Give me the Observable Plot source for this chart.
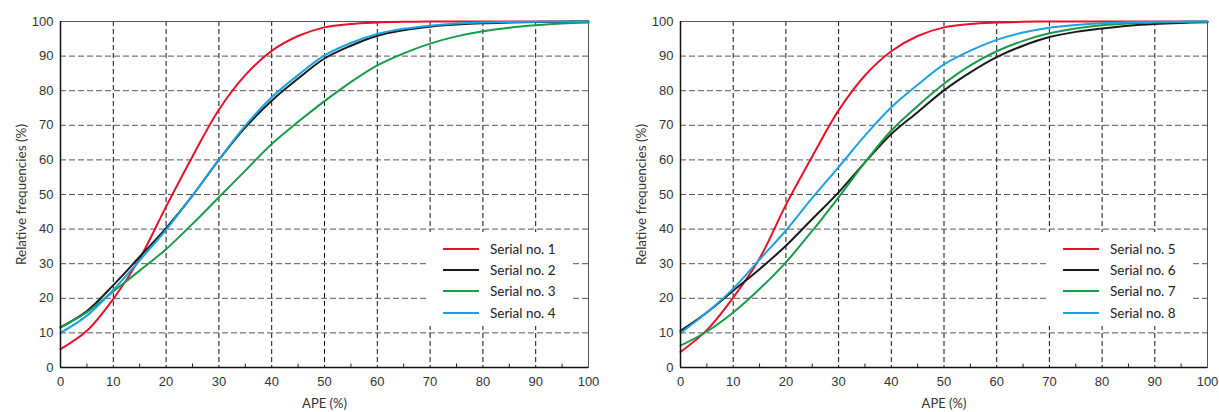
<!DOCTYPE html>
<html>
<head>
<meta charset="utf-8">
<script src="https://cdn.jsdelivr.net/npm/d3@7"></script>
<script src="https://cdn.jsdelivr.net/npm/@observablehq/plot@0.6"></script>
<style>
  body { margin: 0; background: #fff; }
  #wrap { position: relative; width: 1219px; height: 412px; }
  .panel { position: absolute; top: 0; }
  .legend { position: absolute; background: #fff; width: 143px; height: 94px; box-sizing: border-box; padding-top: 6px;
            font-family: "Lato", "Open Sans", sans-serif; font-size: 13.5px; color: #222; }
  .legend .row { display: flex; align-items: center; height: 21.3px; }
  .legend .sw { width: 36px; height: 2px; margin-left: 15px; margin-right: 11px; }
</style>
</head>
<body>
<div id="wrap"></div>
<script>
// APE (%) sample positions
const ape = [0,5,10,15,20,25,30,35,40,45,50,55,60,65,70,75,80,85,90,95,100];

// Left panel series (relative frequency, %)
const serial1 = [5.3,10.6,19.8,31.5,46.5,61,74.5,84.5,91.5,95.8,98.3,99.3,99.7,99.9,100,100,100,100,100,100,100];
const serial2 = [11.6,16.3,23.8,32,40.3,49.7,60,69.4,77.1,83.5,89.3,93,95.9,97.5,98.5,99.1,99.5,99.7,99.85,99.95,100];
const serial3 = [11.6,16,22,28,34.2,41.5,49.2,56.9,64.6,71,77,82.5,87.3,90.8,93.6,95.7,97.2,98.2,98.9,99.4,99.7];
const serial4 = [10,15,22.4,31,39.8,49.7,60,69.9,78.1,84.5,90.2,93.8,96.4,97.9,98.8,99.4,99.7,99.85,99.95,100,100];

// Right panel series
const serial5 = [4.5,10.8,20.2,31.5,47,61,74.3,84.4,91.4,95.8,98.3,99.3,99.7,99.9,100,100,100,100,100,100,100];
const serial6 = [10.6,15.9,22.2,28.4,35.2,42.9,50.6,59.3,67.5,73.8,80.1,85.3,89.7,93,95.5,97,98,98.8,99.3,99.6,99.8];
const serial7 = [6.3,10.4,15.9,22.7,30.4,39.5,49.2,59.3,68.5,75.6,82,87.3,91.4,94.4,96.6,98,98.9,99.4,99.7,99.85,99.95];
const serial8 = [10,15.9,22.8,31.2,39.6,49,57.9,67,75.2,81.7,87.6,91.6,94.7,96.8,98.2,99,99.5,99.75,99.9,99.95,100];

const leftNames = ["Serial no. 1","Serial no. 2","Serial no. 3","Serial no. 4"];
const rightNames = ["Serial no. 5","Serial no. 6","Serial no. 7","Serial no. 8"];
const colors = ["#e3132c","#1a1a1a","#179c47","#1aa3e0"];

const xTicks = [0,10,20,30,40,50,60,70,80,90,100];
const yTicks = [0,10,20,30,40,50,60,70,80,90,100];
const gridTicks = [10,20,30,40,50,60,70,80,90];
const minorX = [5,15,25,35,45,55,65,75,85,95];

function toRows(names, arrays) {
  const rows = [];
  names.forEach((n, i) => arrays[i].forEach((v, j) => rows.push({name: n, ape: ape[j], freq: v})));
  return rows;
}

function panel(names, arrays, left) {
  const data = toRows(names, arrays);
  const chart = Plot.plot({
    width: left ? 600 : 599,
    height: 412,
    marginLeft: 60,
    marginRight: 12,
    marginTop: 21,
    marginBottom: 45,
    style: {fontFamily: "'Liberation Sans', Arial, sans-serif", fontSize: "13px", color: "#333", background: "#fff"},
    x: {domain: [0, 100]},
    y: {domain: [0, 100]},
    color: {domain: names, range: colors},
    marks: [
      Plot.gridX(gridTicks, {stroke: "#111", strokeOpacity: 1, strokeDasharray: "5,3"}),
      Plot.gridY(gridTicks, {stroke: "#555", strokeOpacity: 1, strokeDasharray: "6,3"}),
      Plot.frame({stroke: "#555"}),
      Plot.ruleX(minorX, {y1: 0, y2: 1, stroke: "#222"}),
      Plot.line(data, {x: "ape", y: "freq", stroke: "name", strokeWidth: 2, curve: "catmull-rom"}),
      Plot.ruleX([0], {stroke: "#111", strokeWidth: 1.5}),
      Plot.ruleY([0], {stroke: "#111", strokeWidth: 1.5}),
      Plot.axisX({ticks: [], tickSize: 0, fill: "#333",
        label: "APE (%)", labelAnchor: "center", labelArrow: "none", labelOffset: 40,
        fontFamily: "Lato, 'Open Sans', sans-serif", fontSize: 13}),
      Plot.axisX({ticks: xTicks, tickSize: 0, tickPadding: 9, fill: "#333", label: null,
        fontFamily: "'Liberation Sans', Arial, sans-serif", fontSize: 13}),
      Plot.axisY({ticks: yTicks, tickSize: 0, tickPadding: 7, fill: "#333", label: null,
        fontFamily: "'Liberation Sans', Arial, sans-serif", fontSize: 13}),
      Plot.axisY({ticks: [], tickSize: 0, label: "Relative frequencies (%)", labelAnchor: "center",
        labelArrow: "none", labelOffset: 44, fill: "#333",
        fontFamily: "Lato, 'Open Sans', sans-serif", fontSize: 13.5})
    ]
  });
  return chart;
}

const wrap = document.getElementById("wrap");
function addPanel(names, arrays, offset, isLeft) {
  const div = document.createElement("div");
  div.className = "panel";
  div.style.left = offset + "px";
  div.appendChild(panel(names, arrays, isLeft));
  wrap.appendChild(div);
  const lg = document.createElement("div");
  lg.className = "legend";
  lg.style.left = (offset + 428) + "px";
  lg.style.top = "232px";
  names.forEach((n, i) => {
    const r = document.createElement("div");
    r.className = "row";
    const sw = document.createElement("div");
    sw.className = "sw";
    sw.style.background = colors[i];
    const t = document.createElement("span");
    t.textContent = n;
    r.appendChild(sw); r.appendChild(t);
    lg.appendChild(r);
  });
  wrap.appendChild(lg);
}
addPanel(leftNames, [serial1, serial2, serial3, serial4], 0, true);
addPanel(rightNames, [serial5, serial6, serial7, serial8], 620, false);
</script>
</body>
</html>
